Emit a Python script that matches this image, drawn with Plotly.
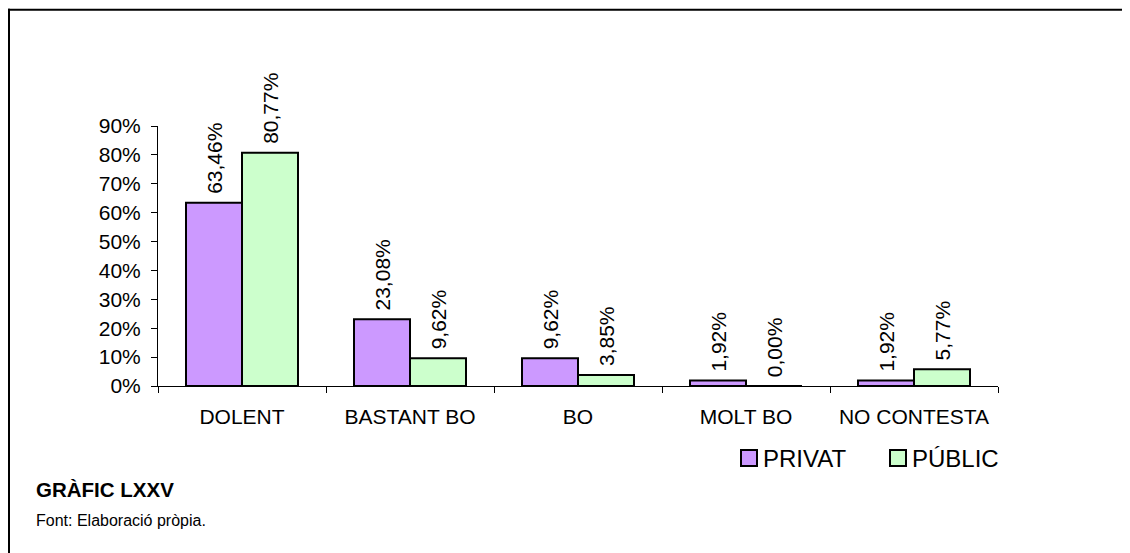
import plotly.graph_objects as go

# ---- data ----
categories = ["DOLENT", "BASTANT BO", "BO", "MOLT BO", "NO CONTESTA"]
privat = [63.46, 23.08, 9.62, 1.92, 1.92]
public = [80.77, 9.62, 3.85, 0.00, 5.77]
series_names = ["PRIVAT", "PÚBLIC"]
y_tick_vals = [0, 10, 20, 30, 40, 50, 60, 70, 80, 90]
y_tick_text = [f"{v}%" for v in y_tick_vals]
title_text = "GRÀFIC LXXV"
source_text = "Font: Elaboració pròpia."

# ---- style ----
colors = ["#CC99FF", "#CCFFCC"]
FONT = "Liberation Sans, Arial, sans-serif"
# page has an 8px body margin; figure coords = page coords - 8
W, H = 1122, 545
L, R, T, B = 150, 132, 118, 167  # plot area: x 150..990, y 118..378


def fmt(v):
    return "\u00a0" + f"{v:.2f}%".replace(".", ",")


def xp(px):
    return (px - L) / (W - L - R)


def yp(py):
    return (H - B - py) / (H - T - B)


fig = go.Figure()
for name, vals, col in zip(series_names, [privat, public], colors):
    fig.add_trace(go.Bar(
        x=categories, y=vals, name=name,
        marker=dict(color=col, line=dict(color="black", width=2)),
        text=[fmt(v) for v in vals], textposition="outside", textangle=-90,
        textfont=dict(family=FONT, size=21, color="black"),
        constraintext="none", cliponaxis=False, showlegend=False,
    ))

fig.update_layout(
    width=W, height=H,
    margin=dict(l=L, r=R, t=T, b=B, pad=0),
    paper_bgcolor="white", plot_bgcolor="white",
    barmode="group", bargap=1/3, bargroupgap=0,
    font=dict(family=FONT, color="black"),
    showlegend=False,
)
fig.update_xaxes(
    showline=True, linecolor="black", linewidth=1,
    ticks="outside", tickson="boundaries", ticklen=6, tickcolor="black",
    tickfont=dict(size=21, family=FONT), ticklabelstandoff=12,
    showgrid=False, zeroline=False,
)
fig.update_yaxes(
    range=[0, 90], showline=True, linecolor="black", linewidth=1,
    ticks="outside", ticklen=6, tickcolor="black",
    tickvals=y_tick_vals, ticktext=y_tick_text,
    tickfont=dict(size=21, family=FONT), ticklabelstandoff=6,
    showgrid=False, zeroline=False,
)

shapes = [
    # chart border: only the left and top edges are inside the picture
    dict(type="line", xref="paper", yref="paper",
         x0=xp(1), x1=xp(1), y0=yp(H + 10), y1=yp(0.8),
         line=dict(color="black", width=2), layer="below"),
    dict(type="line", xref="paper", yref="paper",
         x0=xp(0), x1=xp(W + 10), y0=yp(1.8), y1=yp(1.8),
         line=dict(color="black", width=2), layer="below"),
]
annotations = [
    dict(text=f"<b>{title_text}</b>", x=xp(26), y=yp(481.5), xref="paper", yref="paper",
         xanchor="left", yanchor="middle", showarrow=False, font=dict(size=20.5, family=FONT)),
    dict(text=source_text, x=xp(26), y=yp(512.5), xref="paper", yref="paper",
         xanchor="left", yanchor="middle", showarrow=False, font=dict(size=16, family=FONT)),
]
# manual legend
for name, col, sx in zip(series_names, colors, [733, 882]):
    shapes.append(dict(type="rect", xref="paper", yref="paper",
                       x0=xp(sx), x1=xp(sx + 16), y0=yp(458), y1=yp(442),
                       line=dict(color="black", width=2), fillcolor=col))
    annotations.append(dict(text=name, x=xp(sx + 20), y=yp(450), xref="paper", yref="paper",
                            xanchor="left", yanchor="middle", showarrow=False,
                            font=dict(size=24, family=FONT)))
fig.update_layout(shapes=shapes, annotations=annotations)

fig.write_html("out.html", config={"displayModeBar": False})
